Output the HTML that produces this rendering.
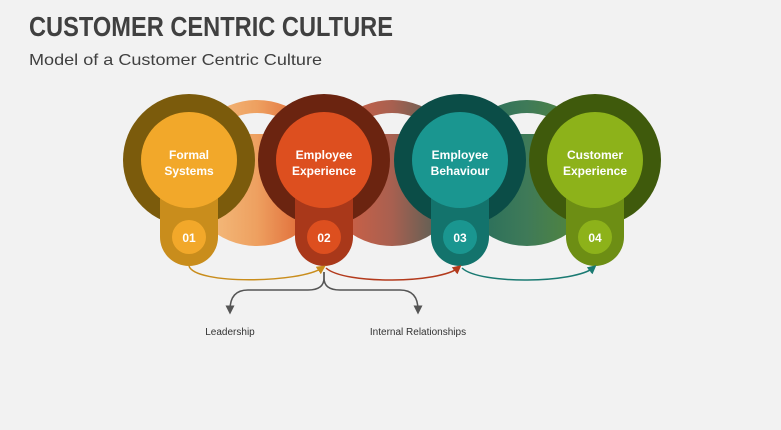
<!DOCTYPE html>
<html><head><meta charset="utf-8"><style>
html,body{margin:0;padding:0;background:#f2f2f2;}
svg{display:block;font-family:"Liberation Sans",sans-serif;}
</style></head><body>
<svg width="781" height="430" viewBox="0 0 781 430">
<defs>
<linearGradient id="g1" x1="0" x2="1"><stop offset="0" stop-color="#f6c98a"/><stop offset="0.5" stop-color="#eea060"/><stop offset="1" stop-color="#d84e22"/></linearGradient>
<linearGradient id="g2" x1="0" x2="1"><stop offset="0" stop-color="#e06040"/><stop offset="0.5" stop-color="#a86050"/><stop offset="1" stop-color="#2f5f58"/></linearGradient>
<linearGradient id="g3" x1="0" x2="1"><stop offset="0" stop-color="#1f6a5e"/><stop offset="0.5" stop-color="#3f7a58"/><stop offset="1" stop-color="#5a8a30"/></linearGradient>
<clipPath id="top"><rect x="0" y="0" width="781" height="134"/></clipPath>
<marker id="ah" markerWidth="6" markerHeight="6" refX="3" refY="3" orient="auto"><path d="M0,0 L6,3 L0,6 z" fill="context-stroke"/></marker>
</defs>
<rect width="781" height="430" fill="#f2f2f2"/>
<text x="29" y="36" font-size="28" font-weight="bold" fill="#404040" textLength="364" lengthAdjust="spacingAndGlyphs">CUSTOMER CENTRIC CULTURE</text>
<text x="29" y="65" font-size="16" fill="#404040" textLength="293" lengthAdjust="spacingAndGlyphs">Model of a Customer Centric Culture</text>

<!-- rings -->
<circle cx="257" cy="173" r="73" fill="url(#g1)"/>
<circle cx="392" cy="173" r="73" fill="url(#g2)"/>
<circle cx="527" cy="173" r="73" fill="url(#g3)"/>
<g clip-path="url(#top)" fill="#f2f2f2">
<circle cx="257" cy="173" r="60"/>
<circle cx="392" cy="173" r="60"/>
<circle cx="527" cy="173" r="60"/>
</g>

<g font-weight="bold" fill="#fff" text-anchor="middle">
<circle cx="189" cy="160" r="66" fill="#7b5b0c"/>
<path d="M160,180h58v57a29,29 0 0 1 -58,0z" fill="#c98d1c"/>
<circle cx="189" cy="160" r="48" fill="#f2a82a"/>
<circle cx="189" cy="237" r="17" fill="#f2a82a"/>
<text x="189" y="159" font-size="12">Formal</text>
<text x="189" y="175" font-size="12">Systems</text>
<text x="189" y="242" font-size="12">01</text>

<circle cx="324" cy="160" r="66" fill="#6b2410"/>
<path d="M295,180h58v57a29,29 0 0 1 -58,0z" fill="#a9381a"/>
<circle cx="324" cy="160" r="48" fill="#dd4f1f"/>
<circle cx="324" cy="237" r="17" fill="#dd4f1f"/>
<text x="324" y="159" font-size="12">Employee</text>
<text x="324" y="175" font-size="12">Experience</text>
<text x="324" y="242" font-size="12">02</text>

<circle cx="460" cy="160" r="66" fill="#0b4d47"/>
<path d="M431,180h58v57a29,29 0 0 1 -58,0z" fill="#13736c"/>
<circle cx="460" cy="160" r="48" fill="#1a9690"/>
<circle cx="460" cy="237" r="17" fill="#1a9690"/>
<text x="460" y="159" font-size="12">Employee</text>
<text x="460" y="175" font-size="12">Behaviour</text>
<text x="460" y="242" font-size="12">03</text>

<circle cx="595" cy="160" r="66" fill="#3f5a0c"/>
<path d="M566,180h58v57a29,29 0 0 1 -58,0z" fill="#6d8e14"/>
<circle cx="595" cy="160" r="48" fill="#8db21a"/>
<circle cx="595" cy="237" r="17" fill="#8db21a"/>
<text x="595" y="159" font-size="12">Customer</text>
<text x="595" y="175" font-size="12">Experience</text>
<text x="595" y="242" font-size="12">04</text>
</g>

<g fill="none" stroke-width="1.5">
<path d="M189,266 C195,285 300,283 322,268" stroke="#c98d1c" marker-end="url(#ah)"/>
<path d="M326,268 C345,285 440,283 458,268" stroke="#b33a1c" marker-end="url(#ah)"/>
<path d="M462,268 C480,285 575,283 593,268" stroke="#1a7a72" marker-end="url(#ah)"/>
<path d="M324,272 v6 q0,12 -16,12 h-60 q-18,0 -18,20" stroke="#555" marker-end="url(#ah)"/>
<path d="M324,272 v6 q0,12 16,12 h60 q18,0 18,20" stroke="#555" marker-end="url(#ah)"/>
</g>
<text x="230" y="335" font-size="10" fill="#333" text-anchor="middle">Leadership</text>
<text x="418" y="335" font-size="10" fill="#333" text-anchor="middle">Internal Relationships</text>
</svg>
</body></html>
